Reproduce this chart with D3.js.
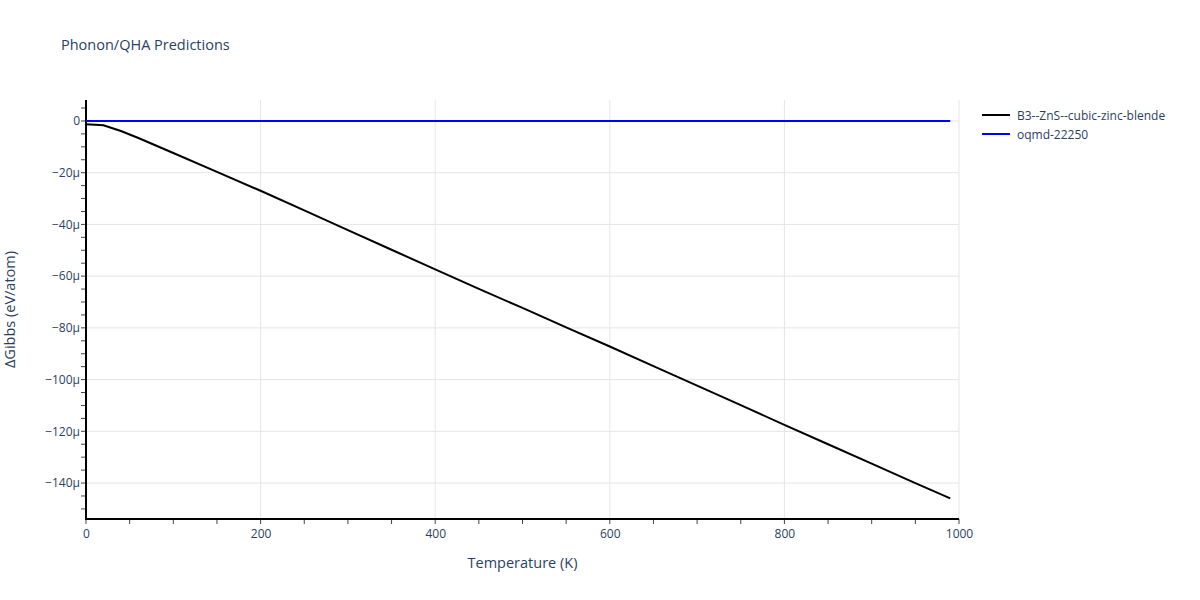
<!DOCTYPE html>
<html><head><meta charset="utf-8">
<script src="https://cdn.jsdelivr.net/npm/d3@7"></script>
<style>body{margin:0;background:#fff;}svg{font-family:"Open Sans",sans-serif;}</style>
</head><body><svg id="c" width="1200" height="600"></svg>
<script>
const temps = [0,20,40,60,80,100,150,200,250,300,350,400,450,500,550,600,650,700,750,800,850,900,950,990];
const zns = [-1.3,-1.7,-3.9,-6.6,-9.5,-12.4,-19.7,-27.0,-34.6,-42.2,-49.8,-57.4,-64.9,-72.3,-79.8,-87.2,-94.8,-102.3,-109.9,-117.5,-125.0,-132.5,-140.0,-145.9];
const oqmd = temps.map(()=>0);
const seriesNames = ["B3--ZnS--cubic-zinc-blende","oqmd-22250"];
const seriesColors = ["#000000","#0000ff"];
const xTicks = [0,200,400,600,800,1000];
const yTicks = [0,-20,-40,-60,-80,-100,-120,-140];

const svg = d3.select("#c");
const L=86,R=959,T=100,B=519;
const x = d3.scaleLinear().domain([0,1000]).range([L,R]);
const y = d3.scaleLinear().domain([8.1,-153.9]).range([T,B]);
const fc="#2a3f5f";

// grid
svg.append("g").selectAll("line").data(xTicks.filter(d=>d>0)).join("line")
  .attr("x1",d=>x(d)).attr("x2",d=>x(d)).attr("y1",T).attr("y2",B).attr("stroke","#e5e5e5");
svg.append("g").selectAll("line").data(yTicks).join("line")
  .attr("x1",L).attr("x2",R).attr("y1",d=>y(d)).attr("y2",d=>y(d)).attr("stroke","#e5e5e5");

// axes
const fmt = d => d===0 ? "0" : "\u2212"+Math.abs(d)+"\u03bc";
const ya = svg.append("g").attr("transform",`translate(${L},0)`)
  .call(d3.axisLeft(y).tickValues(yTicks).tickFormat(fmt).tickSize(0).tickPadding(6));
ya.select(".domain").remove();
ya.selectAll("text").attr("fill",fc).attr("font-size",12).attr("font-family","Open Sans");
const yminor = d3.range(5,-155,-5);
svg.append("g").selectAll("line").data(yminor).join("line")
  .attr("x1",L-5).attr("x2",L).attr("y1",d=>y(d)).attr("y2",d=>y(d)).attr("stroke","#444");
const xa = svg.append("g").attr("transform",`translate(0,${B})`)
  .call(d3.axisBottom(x).tickValues(xTicks).tickFormat(d3.format("d")).tickSize(0).tickPadding(10));
xa.select(".domain").remove();
xa.selectAll("text").attr("fill",fc).attr("font-size",12).attr("font-family","Open Sans");
svg.append("g").selectAll("line").data(d3.range(0,1001,50)).join("line")
  .attr("x1",d=>x(d)).attr("x2",d=>x(d)).attr("y1",B).attr("y2",B+5).attr("stroke","#444");
svg.append("line").attr("x1",L).attr("x2",L).attr("y1",T).attr("y2",B+1).attr("stroke","#000").attr("stroke-width",2);
svg.append("line").attr("x1",L-1).attr("x2",R).attr("y1",B).attr("y2",B).attr("stroke","#000").attr("stroke-width",2);

// lines
const line = d3.line().x((d,i)=>x(temps[i])).y(d=>y(d));
[zns,oqmd].forEach((s,i)=>{
  svg.append("path").datum(s).attr("d",line).attr("fill","none")
    .attr("stroke",seriesColors[i]).attr("stroke-width",2);
});

// titles
svg.append("text").attr("x",61).attr("y",50).text("Phonon/QHA Predictions")
  .attr("fill",fc).attr("font-size",14.5);
svg.append("text").attr("x",(L+R)/2).attr("y",568).attr("text-anchor","middle")
  .text("Temperature (K)").attr("fill",fc).attr("font-size",14.5);
svg.append("text").attr("transform",`translate(15,${(T+B)/2}) rotate(-90)`).attr("text-anchor","middle")
  .text("\u0394Gibbs (eV/atom)").attr("fill",fc).attr("font-size",14.5);

// legend
seriesNames.forEach((n,i)=>{
  const yy=115+i*19;
  svg.append("line").attr("x1",982).attr("x2",1010).attr("y1",yy).attr("y2",yy)
    .attr("stroke",seriesColors[i]).attr("stroke-width",2);
  svg.append("text").attr("x",1017).attr("y",yy+4.5).text(n).attr("fill",fc).attr("font-size",12);
});
</script></body></html>
